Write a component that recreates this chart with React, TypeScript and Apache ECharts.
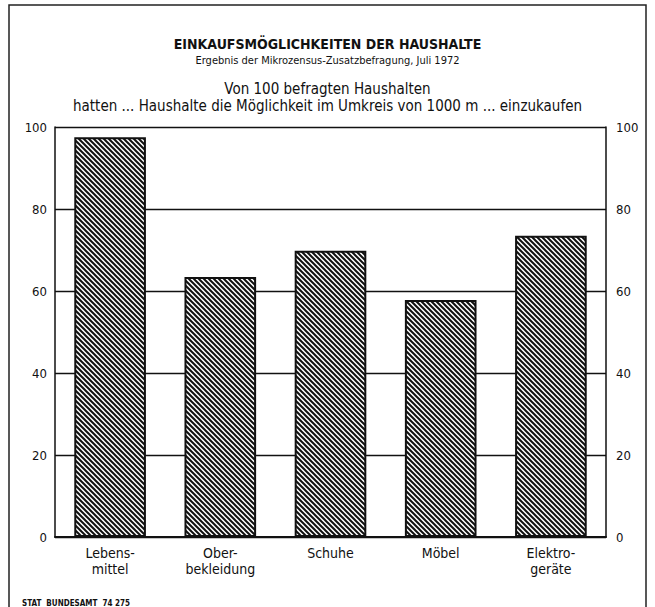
import React, { useEffect, useRef } from "react";
import * as echarts from "echarts";

const categories: string[] = ["Lebens-\nmittel", "Ober-\nbekleidung", "Schuhe", "Möbel", "Elektro-\ngeräte"];
const values: number[] = [97.5, 63.4, 69.8, 57.8, 73.5];
const yTicks: number[] = [0, 20, 40, 60, 80, 100];

const FONT = "'Liberation Sans Narrow', 'DejaVu Sans Condensed', 'Arial Narrow', sans-serif";

function makeHatch(): HTMLCanvasElement {
  const size = 5;
  const c = document.createElement("canvas");
  c.width = size;
  c.height = size;
  const ctx = c.getContext("2d")!;
  ctx.fillStyle = "#ffffff";
  ctx.fillRect(0, 0, size, size);
  ctx.strokeStyle = "#111111";
  ctx.lineWidth = 2;
  ctx.beginPath();
  ctx.moveTo(-size, 0);
  ctx.lineTo(size, size * 2);
  ctx.moveTo(0, 0);
  ctx.lineTo(size, size);
  ctx.moveTo(0, -size);
  ctx.lineTo(size * 2, size);
  ctx.stroke();
  return c;
}

export default function App() {
  const ref = useRef<HTMLDivElement>(null);
  useEffect(() => {
    document.body.style.margin = "0";
    const chart = echarts.init(ref.current!, null, { renderer: "svg" });
    const hatch = makeHatch();
    const axisLabel = { color: "#111", fontFamily: FONT, fontSize: 13 };
    chart.setOption({
      animation: false,
      backgroundColor: "#ffffff",
      title: [
        {
          text: "EINKAUFSMÖGLICHKEITEN DER HAUSHALTE",
          left: "center",
          top: 32,
          textStyle: { fontFamily: FONT, fontSize: 14, fontWeight: "bold", color: "#111" },
        },
        {
          text: "Ergebnis der Mikrozensus-Zusatzbefragung, Juli 1972",
          left: "center",
          top: 50,
          textStyle: { fontFamily: FONT, fontSize: 11, fontWeight: "normal", color: "#111" },
        },
        {
          text: "Von 100 befragten Haushalten",
          left: "center",
          top: 76,
          textStyle: { fontFamily: FONT, fontSize: 15, fontWeight: "normal", color: "#111" },
        },
        {
          text: "hatten ... Haushalte die Möglichkeit im Umkreis von 1000 m ... einzukaufen",
          left: "center",
          top: 93,
          textStyle: { fontFamily: FONT, fontSize: 15, fontWeight: "normal", color: "#111" },
        },
        {
          text: "STAT  BUNDESAMT  74 275",
          left: 17,
          top: 594,
          textStyle: { fontFamily: FONT, fontSize: 8, fontWeight: "bold", color: "#111" },
        },
      ],
      graphic: [
        {
          type: "rect",
          shape: { x: 9, y: 5, width: 637, height: 620 },
          style: { fill: "none", stroke: "#222", lineWidth: 1.5 },
          silent: true,
        },
      ],
      grid: { left: 55, right: 49, top: 127, bottom: 70, containLabel: false },
      xAxis: {
        type: "category",
        data: categories,
        axisTick: { show: false },
        axisLine: { show: true, lineStyle: { color: "#111", width: 2 } },
        axisLabel: { ...axisLabel, fontSize: 14, lineHeight: 16, margin: 8 },
      },
      yAxis: [
        {
          type: "value",
          min: 0,
          max: 100,
          interval: 20,
          position: "left",
          axisLine: { show: true, lineStyle: { color: "#111", width: 1.5 } },
          axisTick: { show: false },
          axisLabel: { ...axisLabel, margin: 8, formatter: (v: number) => (yTicks.includes(v) ? String(v) : "") },
          splitLine: { show: true, lineStyle: { color: "#111", width: 1.3 } },
        },
        {
          type: "value",
          min: 0,
          max: 100,
          interval: 20,
          position: "right",
          axisLine: { show: true, lineStyle: { color: "#111", width: 1.5 } },
          axisTick: { show: false },
          axisLabel: { ...axisLabel, margin: 10, formatter: (v: number) => (yTicks.includes(v) ? String(v) : "") },
          splitLine: { show: false },
        },
      ],
      series: [
        {
          type: "bar",
          data: values,
          barWidth: "65%",
          itemStyle: {
            color: { image: hatch, repeat: "repeat" },
            borderColor: "#111",
            borderWidth: 2,
          },
        },
      ],
    });
    return () => chart.dispose();
  }, []);
  return <div ref={ref} style={{ width: 655, height: 607 }} />;
}
